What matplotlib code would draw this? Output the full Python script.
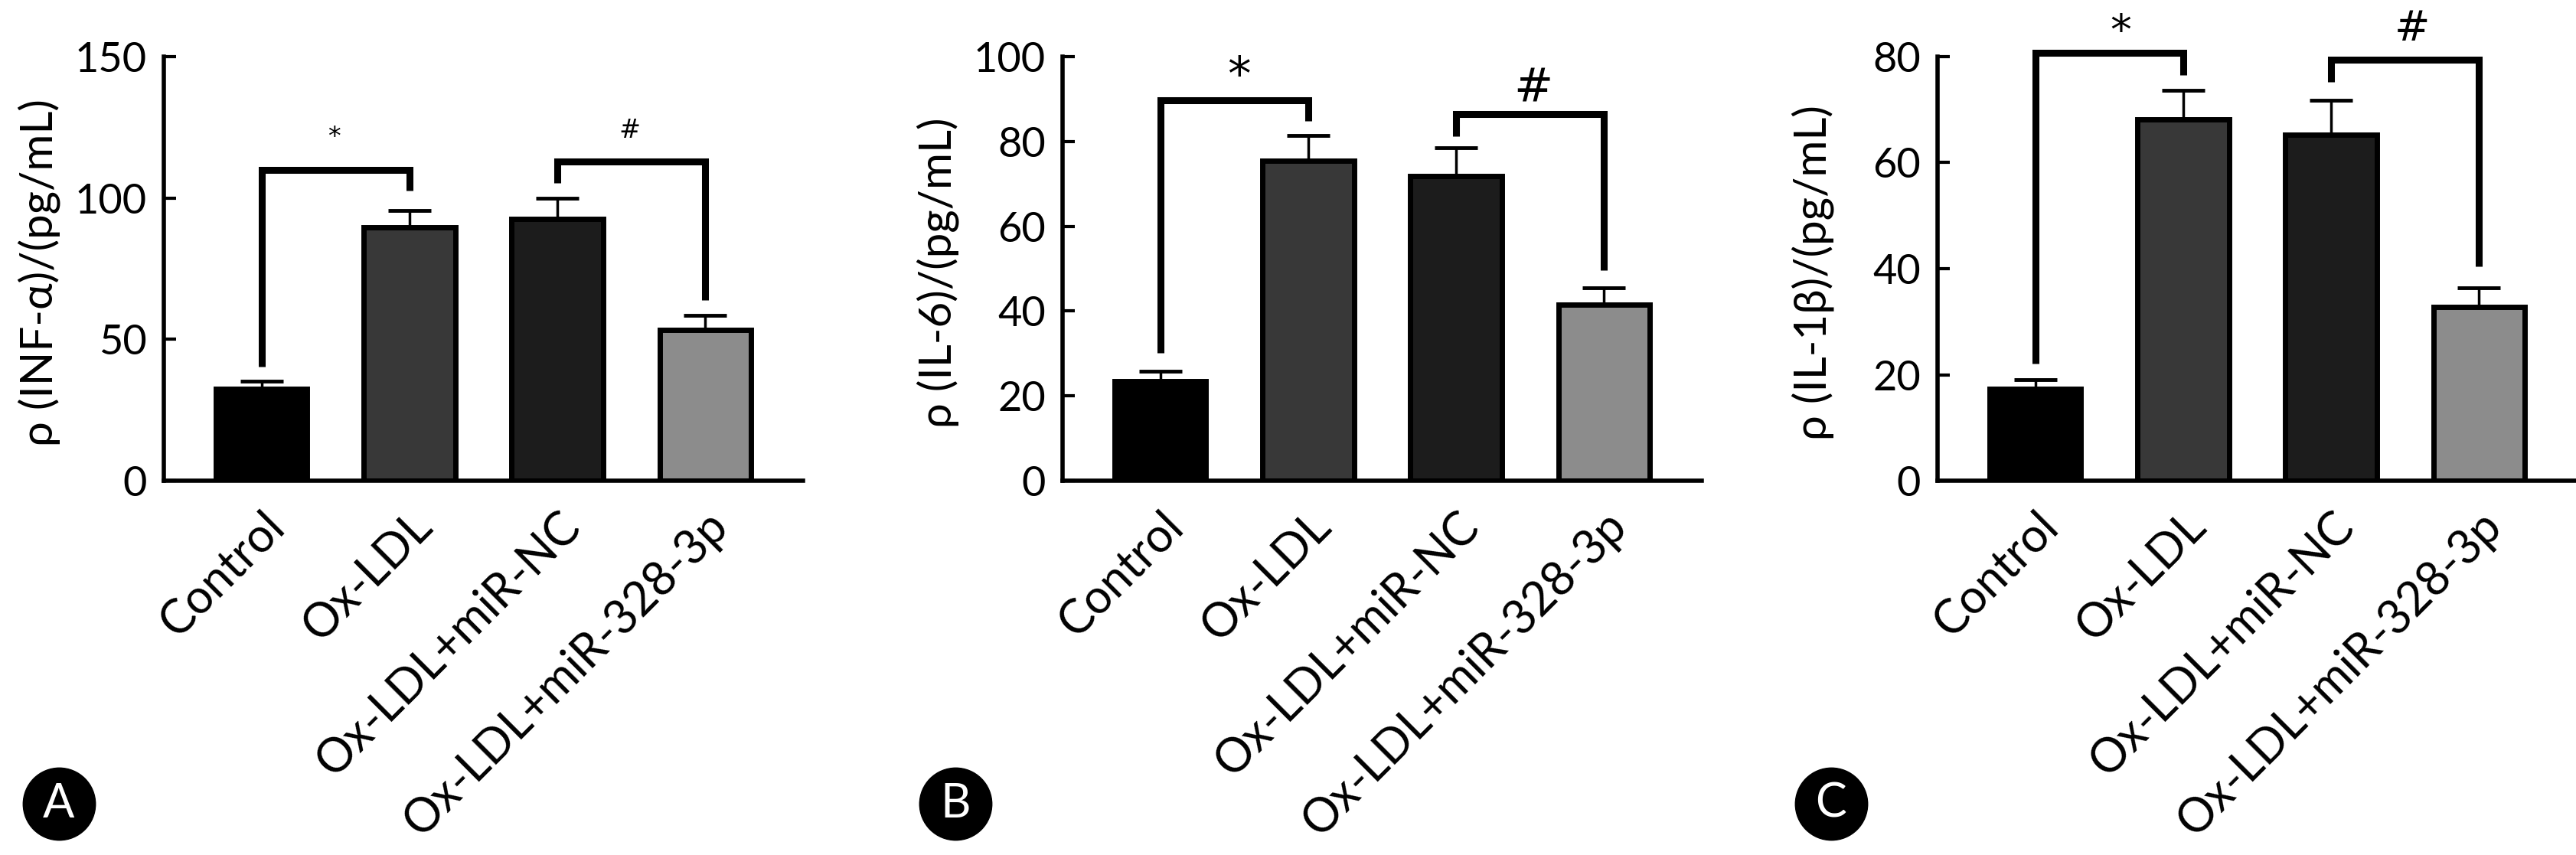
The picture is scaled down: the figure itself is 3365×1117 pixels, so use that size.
import numpy as np
import matplotlib.pyplot as plt
from matplotlib.lines import Line2D

plt.rcParams['font.family'] = ['Lato', 'DejaVu Sans']

groups = ["Control", "Ox-LDL", "Ox-LDL+miR-NC", "Ox-LDL+miR-328-3p"]
colors = ["#000000", "#383838", "#1c1c1c", "#8c8c8c"]

# panel A: INF-a
tnf_mean = [32.4, 89.6, 92.6, 53.3]
tnf_err = [2.9, 6.1, 7.2, 5.1]
# panel B: IL-6
il6_mean = [23.4, 75.5, 71.9, 41.5]
il6_err = [2.4, 5.9, 6.6, 4.0]
# panel C: IL-1b
il1b_mean = [17.4, 68.1, 65.3, 32.8]
il1b_err = [1.6, 5.5, 6.5, 3.6]

ylabels = ["ρ (INF-α)/(pg/mL)", "ρ (IL-6)/(pg/mL)", "ρ (IL-1β)/(pg/mL)"]
yticks = [[0, 50, 100, 150], [0, 20, 40, 60, 80, 100], [0, 20, 40, 60, 80]]
letters = ["A", "B", "C"]

# brackets: (x_left, x_right, y_top, y_left_end, y_right_end)
br_star = [(0, 1, 109.8, 40.3, 102.6), (0, 1, 89.8, 30.2, 84.9), (0, 1, 80.7, 22.1, 76.5)]
br_hash = [(2, 3, 112.9, 105.3, 64.0), (2, 3, 86.5, 81.3, 49.6), (2, 3, 79.4, 75.2, 40.4)]
# symbol positions (x, y) and font sizes
star_pos = [(0.49, 121.5), (0.53, 95.2), (0.58, 84.5)]
hash_pos = [(2.49, 124.0), (2.52, 92.5), (2.55, 85.2)]
sym_size = [24, 44, 40]

W, H = 3366, 1117
fig = plt.figure(figsize=(W / 100, H / 100), dpi=100)

lefts = [214, 1388, 2531]
bottom_px, top_px = 628, 74
width_px = 835
circ_pos = [(77, 1050), (1248, 1050), (2392, 1050)]

data = [(tnf_mean, tnf_err), (il6_mean, il6_err), (il1b_mean, il1b_err)]

for i in range(3):
    ax = fig.add_axes([lefts[i] / W, 1 - bottom_px / H, width_px / W, (bottom_px - top_px) / H])
    m, e = data[i]
    x = np.arange(4)
    ax.errorbar(x, m, yerr=[np.zeros(4), e], fmt='none', ecolor='black',
                elinewidth=2.5, capsize=20, capthick=3.5, zorder=1)
    ax.bar(x, m, width=0.62, color=colors, edgecolor='black', linewidth=5, zorder=2)

    for (x0, x1, yt, yl, yr) in [br_star[i], br_hash[i]]:
        ax.plot([x0, x0, x1, x1], [yl, yt, yt, yr], color='black', lw=6.5,
                clip_on=False, solid_joinstyle='miter', solid_capstyle='butt', zorder=3)
    ax.text(star_pos[i][0], star_pos[i][1], "*", ha='center', va='center',
            fontsize=sym_size[i], family='DejaVu Sans')
    ax.text(hash_pos[i][0], hash_pos[i][1], "#", ha='center', va='center',
            fontsize=sym_size[i], family='DejaVu Sans')

    ax.set_xlim(-0.66, 3.66)
    ax.set_ylim(0, yticks[i][-1])
    ax.set_yticks(yticks[i])
    ax.set_xticks(x)
    ax.set_xticklabels(groups, rotation=45, ha='right', rotation_mode='anchor')
    ax.tick_params(axis='x', length=0, pad=22, labelsize=44)
    ax.tick_params(axis='y', direction='in', length=11.5, width=3, labelsize=39, pad=16)
    for s in ['top', 'right']:
        ax.spines[s].set_visible(False)
    ax.spines['left'].set_linewidth(4)
    ax.spines['bottom'].set_linewidth(4)
    ax.set_ylabel(ylabels[i], fontsize=42)
    ax.yaxis.set_label_coords(-0.162, 0.49)

    cx, cy = circ_pos[i]
    fig.add_artist(Line2D([cx / W], [1 - cy / H], marker='o', markersize=68,
                          color='black', transform=fig.transFigure))
    fig.text(cx / W, 1 - cy / H, letters[i], color='white', fontsize=44,
             ha='center', va='center')

fig.savefig("out.png", dpi=100)
